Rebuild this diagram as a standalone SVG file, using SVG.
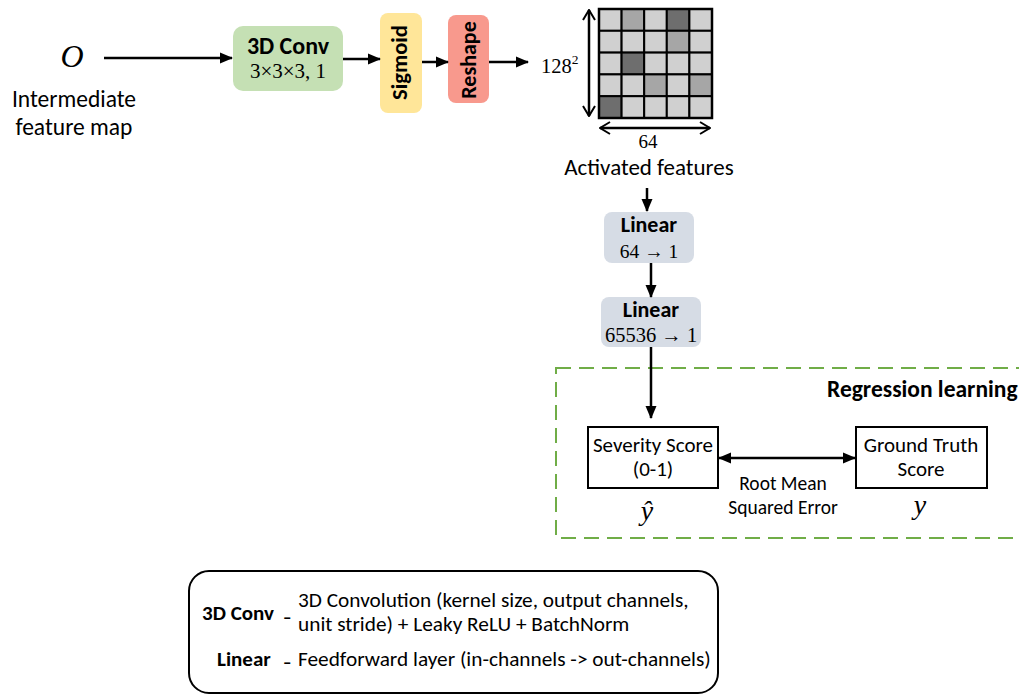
<svg xmlns="http://www.w3.org/2000/svg" width="1019" height="695" viewBox="0 0 1019 695">
<defs>
<marker id="ah" markerUnits="userSpaceOnUse" markerWidth="13" markerHeight="13" viewBox="0 0 13 13" refX="12" refY="6.5" orient="auto-start-reverse">
<path d="M0,1 L13,6.5 L0,12 z" fill="#000"/>
</marker>
<marker id="ch" markerUnits="userSpaceOnUse" markerWidth="12" markerHeight="14" viewBox="0 0 12 14" refX="11" refY="7" orient="auto-start-reverse">
<path d="M1,1 L11,7 L1,13" fill="none" stroke="#000" stroke-width="2"/>
</marker>
<style>
.s{font-family:Carlito,"Liberation Sans",Arial,sans-serif;fill:#000}
.b{font-weight:bold}
.m{font-family:"Liberation Serif","DejaVu Serif",serif;fill:#000}
.ln{stroke:#000;stroke-width:2.5;fill:none}
.cell{stroke:#000;stroke-width:2}
.l{fill:#d0d0d0}.md{fill:#a6a6a6}.dk{fill:#6e6e6e}
</style>
</defs>

<g id="input">
<text class="m" x="72" y="67" font-size="32" font-style="italic" text-anchor="middle">O</text>
<text class="s" x="74" y="107" font-size="23.5" text-anchor="middle">Intermediate</text>
<text class="s" x="74" y="135" font-size="23.5" text-anchor="middle">feature map</text>
</g>

<g id="conv3d">
<rect x="233" y="26" width="110" height="65" rx="10" fill="#c5e0b4"/>
<text class="s b" x="288" y="54" font-size="24" text-anchor="middle">3D Conv</text>
<text class="m" x="288" y="78" font-size="21" text-anchor="middle">3×3×3, 1</text>
</g>

<g id="sigmoid">
<rect x="380" y="13" width="42" height="100" rx="8" fill="#ffe699"/>
<text class="s b" transform="translate(407,62.5) rotate(-90)" font-size="22.5" text-anchor="middle">Sigmoid</text>
</g>

<g id="reshape">
<rect x="448" y="15" width="41" height="88" rx="8" fill="#f8998d"/>
<text class="s b" transform="translate(476,60) rotate(-90)" font-size="22" text-anchor="middle">Reshape</text>
</g>

<g id="activated">
<text class="m" x="541" y="73" font-size="20.5">128<tspan font-size="13.5" dy="-9">2</tspan></text>
<g>
<rect class="cell l" x="599" y="9" width="22.6" height="21.8"/>
<rect class="cell md" x="621.6" y="9" width="22.6" height="21.8"/>
<rect class="cell l" x="644.2" y="9" width="22.6" height="21.8"/>
<rect class="cell dk" x="666.8" y="9" width="22.6" height="21.8"/>
<rect class="cell l" x="689.4" y="9" width="22.6" height="21.8"/>
<rect class="cell l" x="599" y="30.8" width="22.6" height="21.8"/>
<rect class="cell l" x="621.6" y="30.8" width="22.6" height="21.8"/>
<rect class="cell l" x="644.2" y="30.8" width="22.6" height="21.8"/>
<rect class="cell md" x="666.8" y="30.8" width="22.6" height="21.8"/>
<rect class="cell l" x="689.4" y="30.8" width="22.6" height="21.8"/>
<rect class="cell l" x="599" y="52.6" width="22.6" height="21.8"/>
<rect class="cell dk" x="621.6" y="52.6" width="22.6" height="21.8"/>
<rect class="cell l" x="644.2" y="52.6" width="22.6" height="21.8"/>
<rect class="cell l" x="666.8" y="52.6" width="22.6" height="21.8"/>
<rect class="cell l" x="689.4" y="52.6" width="22.6" height="21.8"/>
<rect class="cell l" x="599" y="74.4" width="22.6" height="21.8"/>
<rect class="cell l" x="621.6" y="74.4" width="22.6" height="21.8"/>
<rect class="cell md" x="644.2" y="74.4" width="22.6" height="21.8"/>
<rect class="cell l" x="666.8" y="74.4" width="22.6" height="21.8"/>
<rect class="cell md" x="689.4" y="74.4" width="22.6" height="21.8"/>
<rect class="cell dk" x="599" y="96.2" width="22.6" height="21.8"/>
<rect class="cell l" x="621.6" y="96.2" width="22.6" height="21.8"/>
<rect class="cell l" x="644.2" y="96.2" width="22.6" height="21.8"/>
<rect class="cell l" x="666.8" y="96.2" width="22.6" height="21.8"/>
<rect class="cell l" x="689.4" y="96.2" width="22.6" height="21.8"/>
<rect x="599" y="9" width="113" height="109" fill="none" stroke="#000" stroke-width="2.5"/>
</g>
<text class="m" x="648" y="148" font-size="19" text-anchor="middle">64</text>
<text class="s" x="649" y="175" font-size="23" text-anchor="middle">Activated features</text>
</g>

<g id="linear1">
<rect x="604" y="212" width="90" height="51" rx="8" fill="#d6dce5"/>
<text class="s b" x="649" y="232" font-size="22" text-anchor="middle">Linear</text>
<text class="m" x="649" y="258" font-size="19.5" text-anchor="middle">64 → 1</text>
</g>

<g id="linear2">
<rect x="601" y="297" width="100" height="50" rx="8" fill="#d6dce5"/>
<text class="s b" x="651" y="317" font-size="22" text-anchor="middle">Linear</text>
<text class="m" x="651" y="342" font-size="20.5" text-anchor="middle">65536 → 1</text>
</g>

<g id="regression">
<rect x="556" y="368" width="500" height="170" fill="none" stroke="#70ad47" stroke-width="2" stroke-dasharray="15,8"/>
<text class="s b" x="827" y="397" font-size="23.5">Regression learning</text>
</g>

<g id="severity">
<rect x="588" y="427" width="130" height="61" fill="#fff" stroke="#000" stroke-width="2"/>
<text class="s" x="653" y="452" font-size="21" text-anchor="middle">Severity Score</text>
<text class="s" x="653" y="476" font-size="21" text-anchor="middle">(0-1)</text>
<text class="m" x="647" y="520" font-size="28" font-style="italic" text-anchor="middle">ŷ</text>
</g>

<g id="groundtruth">
<rect x="856" y="427" width="131" height="61" fill="#fff" stroke="#000" stroke-width="2"/>
<text class="s" x="921" y="452" font-size="21" text-anchor="middle">Ground Truth</text>
<text class="s" x="921" y="476" font-size="21" text-anchor="middle">Score</text>
<text class="m" x="920" y="514" font-size="28" font-style="italic" text-anchor="middle">y</text>
</g>

<g id="rmse">
<text class="s" x="783" y="490" font-size="19.5" text-anchor="middle">Root Mean</text>
<text class="s" x="783" y="514" font-size="19.5" text-anchor="middle">Squared Error</text>
</g>

<g id="connectors">
<line class="ln" x1="104" y1="58" x2="232" y2="58" marker-end="url(#ah)"/>
<line class="ln" x1="343" y1="59" x2="380" y2="59" marker-end="url(#ah)"/>
<line class="ln" x1="422" y1="62" x2="448" y2="62" marker-end="url(#ah)"/>
<line class="ln" x1="489" y1="62" x2="528" y2="62" marker-end="url(#ah)"/>
<line class="ln" x1="589" y1="10" x2="589" y2="116" marker-start="url(#ch)" marker-end="url(#ch)"/>
<line class="ln" x1="600" y1="128" x2="710" y2="128" marker-start="url(#ch)" marker-end="url(#ch)"/>
<line class="ln" x1="647" y1="188" x2="647" y2="211" marker-end="url(#ah)"/>
<line class="ln" x1="651" y1="263" x2="651" y2="297" marker-end="url(#ah)"/>
<line class="ln" x1="651" y1="347" x2="651" y2="418" marker-end="url(#ah)"/>
<line class="ln" x1="719" y1="458" x2="855" y2="458" marker-start="url(#ah)" marker-end="url(#ah)"/>
</g>

<g id="legend">
<rect x="189" y="571" width="529" height="122" rx="20" fill="none" stroke="#000" stroke-width="2"/>
<text class="s b" x="202" y="620" font-size="21">3D Conv</text>
<text class="s b" x="283" y="623" font-size="17">–</text>
<text class="s" x="298" y="607" font-size="21.3">3D Convolution (kernel size, output channels,</text>
<text class="s" x="298" y="631" font-size="21.3">unit stride) + Leaky ReLU + BatchNorm</text>
<text class="s b" x="217" y="666" font-size="21">Linear</text>
<text class="s b" x="283" y="668" font-size="17">–</text>
<text class="s" x="298" y="666" font-size="21.3">Feedforward layer (in-channels -&gt; out-channels)</text>
</g>
</svg>
